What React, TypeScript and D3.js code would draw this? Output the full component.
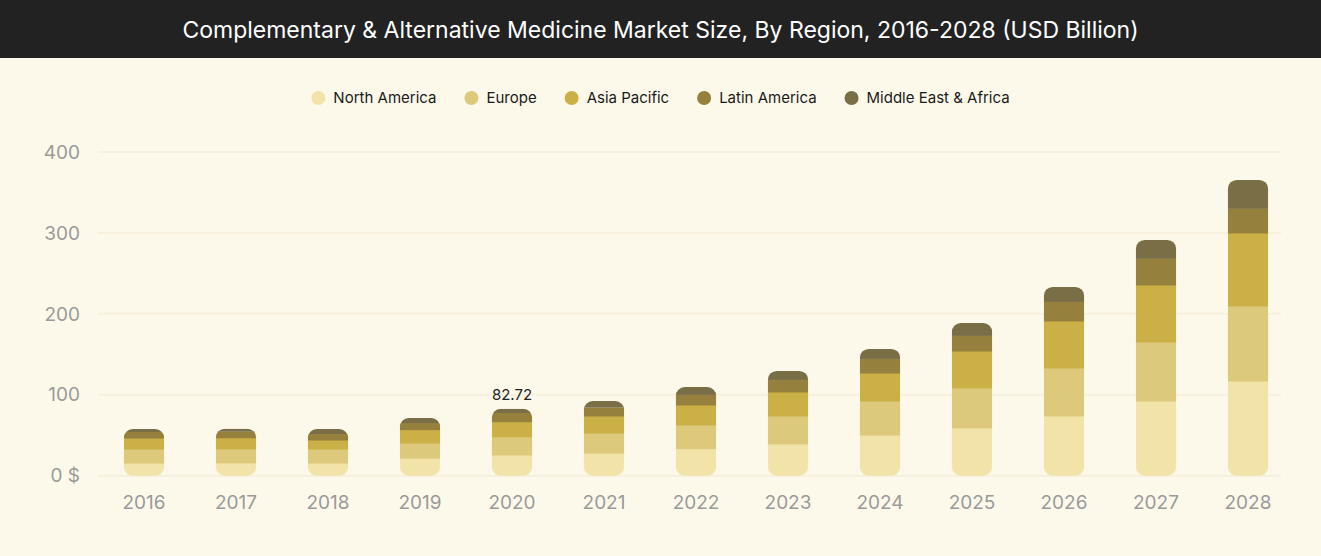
import React, { useEffect, useRef } from "react";
import * as d3 from "d3";

const years = ["2016","2017","2018","2019","2020","2021","2022","2023","2024","2025","2026","2027","2028"];
const seriesNames = ["North America","Europe","Asia Pacific","Latin America","Middle East & Africa"];
const northAmerica = [15.7,15.8,15.7,21.5,25.6,28.0,33.4,39.2,50.3,59.0,73.8,92.3,117.0];
const europe =       [17.3,17.4,17.3,18.9,22.6,24.8,29.3,34.6,42.0,49.4,59.3,73.0,92.8];
const asiaPacific =  [13.6,13.7,11.1,16.5,18.5,21.0,24.7,29.7,34.6,45.7,58.1,70.4,90.2];
const latinAmerica = [7.4,7.4,7.4,8.2,10.8,10.3,12.4,14.8,17.4,18.6,23.5,32.2,29.7];
const middleEast =   [3.7,3.8,6.2,6.2,5.22,8.2,9.8,11.1,12.3,16.0,18.5,23.4,35.8];
const yTicks = [0,100,200,300,400];
const labelYear = "2020";
const labelText = "82.72";

const colors = ["#f2e3a9","#ddc97b","#cbaf47","#95813d","#7a6e47"];

const W = 1321, H = 556;
const FONT = "Inter, 'Noto Sans', sans-serif";

export default function App() {
  const ref = useRef<SVGSVGElement>(null);
  useEffect(() => {
    document.body.style.margin = "0";
    const svg = d3.select(ref.current);
    svg.selectAll("*").remove();
    svg.append("rect").attr("width", W).attr("height", H).attr("fill", "#fdf9ea");
    svg.append("rect").attr("width", W).attr("height", 58).attr("fill", "#222222");
    svg.append("text").attr("x", W / 2).attr("y", 38).attr("text-anchor", "middle")
      .attr("fill", "#ffffff").attr("font-family", FONT).attr("font-size", 23).attr("font-weight", 400)
      .text("Complementary & Alternative Medicine Market Size, By Region, 2016-2028 (USD Billion)");

    const series = [northAmerica, europe, asiaPacific, latinAmerica, middleEast];
    const data = years.map((y, i) => {
      const o: any = { year: y };
      seriesNames.forEach((s, k) => (o[s] = series[k][i]));
      return o;
    });
    const stack = d3.stack<any>().keys(seriesNames)(data);

    const x = d3.scaleBand().domain(years).range([98, 1294]).paddingInner(0.56).paddingOuter(0.28);
    const y = d3.scaleLinear().domain([0, 400]).range([475.7, 152]);

    const g = svg.append("g");
    yTicks.forEach(t => {
      g.append("line").attr("x1", 98).attr("x2", 1281).attr("y1", y(t)).attr("y2", y(t))
        .attr("stroke", "#f6f0dc").attr("stroke-width", 2);
      g.append("text").attr("x", 80).attr("y", y(t)).attr("dy", "0.35em").attr("text-anchor", "end")
        .attr("fill", "#9a9a9a").attr("font-family", FONT).attr("font-size", 19)
        .text(t === 0 ? "0 $" : String(t));
    });
    years.forEach(yr => {
      g.append("text").attr("x", x(yr)! + x.bandwidth() / 2).attr("y", 509).attr("text-anchor", "middle")
        .attr("fill", "#9a9a9a").attr("font-family", FONT).attr("font-size", 19).text(yr);
    });

    const defs = svg.append("defs");
    years.forEach((yr, i) => {
      const total = stack[stack.length - 1][i][1];
      defs.append("clipPath").attr("id", "clip" + i).append("rect")
        .attr("x", x(yr)!).attr("y", y(total)).attr("width", x.bandwidth())
        .attr("height", y(0) - y(total)).attr("rx", 9).attr("ry", 9);
      const bg = g.append("g").attr("clip-path", `url(#clip${i})`);
      stack.forEach((layer, k) => {
        const d = layer[i];
        bg.append("rect").attr("x", x(yr)!).attr("y", y(d[1])).attr("width", x.bandwidth())
          .attr("height", y(d[0]) - y(d[1]) + (k < stack.length - 1 ? 0.5 : 0)).attr("fill", colors[k]);
      });
      if (yr === labelYear) {
        g.append("text").attr("x", x(yr)! + x.bandwidth() / 2).attr("y", y(total) - 9)
          .attr("text-anchor", "middle").attr("fill", "#222").attr("font-family", FONT)
          .attr("font-size", 15).text(labelText);
      }
    });

    // legend
    const lg = svg.append("g");
    let cx = 0;
    const gap = 28;
    const items: any[] = [];
    seriesNames.forEach((s, k) => {
      const it = lg.append("g");
      it.append("circle").attr("cx", 7).attr("cy", 0).attr("r", 7).attr("fill", colors[k]);
      const t = it.append("text").attr("x", 22).attr("y", 0).attr("dy", "0.35em")
        .attr("fill", "#1a1a1a").attr("font-family", FONT).attr("font-size", 15).text(s);
      const w = (t.node() as SVGTextElement).getComputedTextLength();
      items.push({ it, x: cx });
      cx += 22 + w + gap;
    });
    const totalW = cx - gap;
    const start = W / 2 - totalW / 2;
    items.forEach(o => o.it.attr("transform", `translate(${start + o.x},98)`));
  }, []);
  return <svg ref={ref} width={W} height={H} style={{ display: "block" }} />;
}
